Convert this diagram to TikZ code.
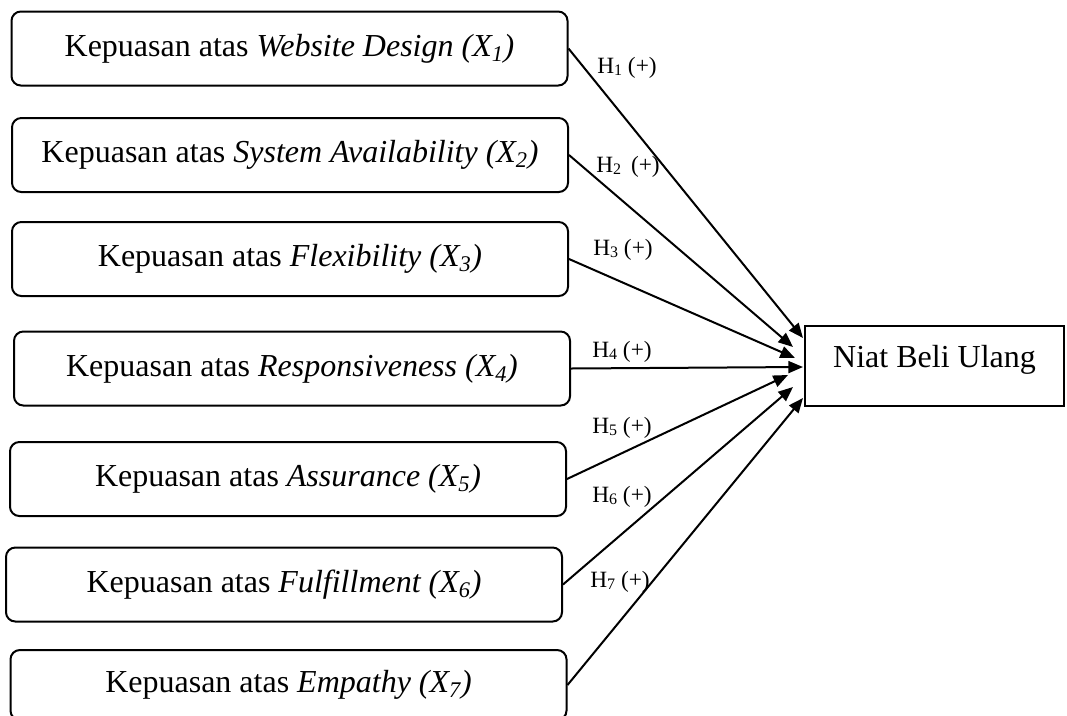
\documentclass[tikz,border=0pt]{standalone}
\usepackage{fontspec}
\setmainfont{Liberation Serif}
\usetikzlibrary{arrows.meta}
\tikzset{
  varbox/.style={draw, line width=1.5pt, rounded corners=7pt,
    minimum width=417pt, minimum height=55.5pt, inner sep=0pt,
    font=\fontsize{24}{28}\selectfont},
  depbox/.style={draw, line width=1.5pt, minimum width=194pt,
    minimum height=60pt, inner sep=0pt, text depth=14pt,
    font=\fontsize{24}{28}\selectfont},
  hyp/.style={-{Triangle[length=11pt,width=9pt]}, line width=1.5pt},
  hlabel/.style={inner sep=0pt, font=\fontsize{17.5}{20}\selectfont},
}
\newcommand{\hsub}[1]{\raisebox{-0.2ex}{\fontsize{12}{14}\selectfont #1}}

\begin{document}
\begin{tikzpicture}[x=0.75pt,y=-0.75pt]
\useasboundingbox (0,0) rectangle (1067,715);
\clip (0,0) rectangle (1067,715);
% the independent variables
\node[varbox] (x1) at (289.5,48.5) {Kepuasan atas \textit{Website Design (X\textsubscript{1})}};
\node[varbox] (x2) at (290,155) {Kepuasan atas \textit{System Availability (X\textsubscript{2})}};
\node[varbox] (x3) at (290,259) {Kepuasan atas \textit{Flexibility (X\textsubscript{3})}};
\node[varbox] (x4) at (292,368.5) {Kepuasan atas \textit{Responsiveness (X\textsubscript{4})}};
\node[varbox] (x5) at (288,479) {Kepuasan atas \textit{Assurance (X\textsubscript{5})}};
\node[varbox] (x6) at (284,584.5) {Kepuasan atas \textit{Fulfillment (X\textsubscript{6})}};
\node[varbox, minimum height=52.5pt] (x7) at (288.5,685) {Kepuasan atas \textit{Empathy (X\textsubscript{7})}};
% the dependent variable
\node[depbox] (niat) at (934.5,366) {Niat Beli Ulang};
% the arrows
\coordinate (t1) at (803,338);
\coordinate (t2) at (793,347);
\coordinate (t3) at (795,358);
\coordinate (t4) at (803,367);
\coordinate (t5) at (788,375);
\coordinate (t6) at (793,387);
\coordinate (t7) at (803,398);
\foreach \i in {1,...,7}
{
  \draw[hyp] (x\i.east) -- (t\i);
}
% the hypotheses
\node[hlabel] (h1) at (627,68) {H\hsub{1} (+)};
\node[hlabel] (h2) at (628,167) {H\hsub{2}\hspace{3pt} (+)};
\node[hlabel] (h3) at (623,250) {H\hsub{3} (+)};
\node[hlabel] (h4) at (622,352) {H\hsub{4} (+)};
\node[hlabel] (h5) at (622,428) {H\hsub{5} (+)};
\node[hlabel] (h6) at (622,497) {H\hsub{6} (+)};
\node[hlabel] (h7) at (620,582) {H\hsub{7} (+)};
\end{tikzpicture}
\end{document}
